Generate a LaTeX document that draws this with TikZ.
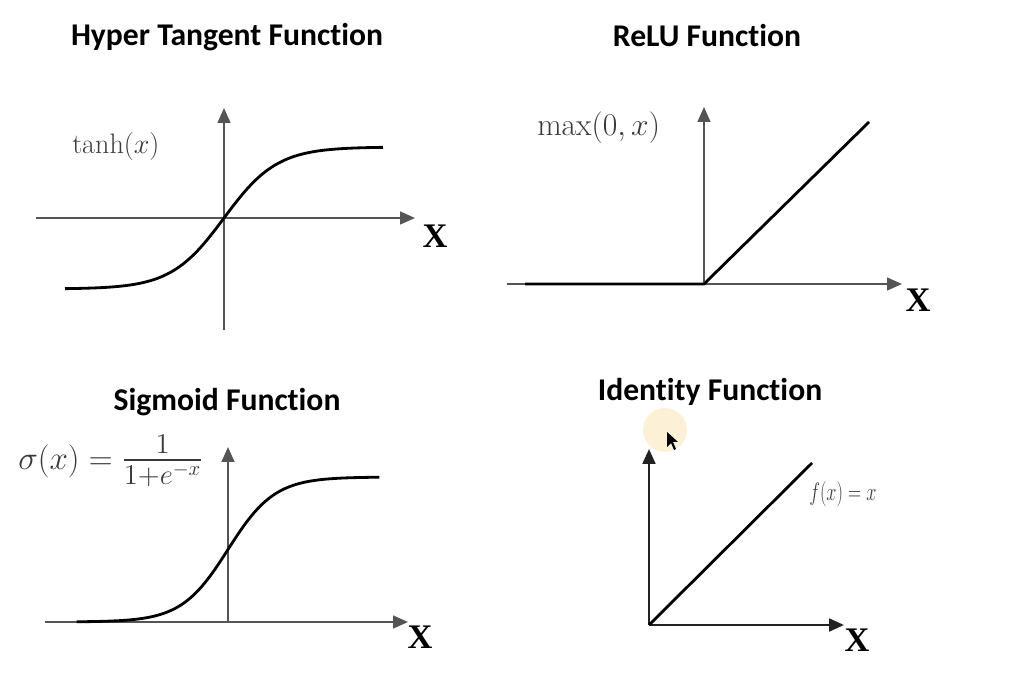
\documentclass[tikz,border=0pt]{standalone}
\usepackage{fix-cm}
\usepackage{amsmath}
\usepackage{fontspec}
\usetikzlibrary{arrows.meta}
\newfontfamily\titlefont{Carlito}[Ligatures=NoCommon]
\newfontfamily\timesfont{Liberation Serif}
\definecolor{axisgray}{HTML}{555555}
\definecolor{axisdark}{HTML}{222222}
\definecolor{labelgray}{HTML}{3A3A3A}
\definecolor{cursorglow}{HTML}{FCF1D6}

\begin{document}
\begin{tikzpicture}[x=0.025cm,y=-0.025cm,
    axis/.style={draw=axisgray,line width=1.4pt,-{Triangle[length=10.5pt,width=9pt]}},
    curve/.style={draw=black,line width=2pt,line join=round},
    title/.style={font=\titlefont\bfseries\fontsize{22.5}{26}\selectfont,anchor=base,inner sep=0pt},
    xname/.style={font=\timesfont\bfseries\fontsize{24.5}{28}\selectfont,anchor=base,inner sep=0pt},
    fname/.style={text=labelgray,anchor=base west,inner sep=0pt},
  ]
  \useasboundingbox (0,0) rectangle (1014,674);

  % titles
  \node[title] (tanh-title) at (227,46) {Hyper Tangent Function};
  \node[title] (relu-title) at (707,47) {ReLU Function};
  \node[title] (sig-title) at (227,411) {Sigmoid Function};
  \node[title] (id-title) at (710,401) {Identity Function};

  % axes: origin, left end of x axis, x tip, bottom of y axis, y tip
  \foreach \n/\ox/\oy/\l/\r/\b/\t in {tanh/224/218/36/415/330/108,
                                     relu/704/284/507/902/284/107,
                                     sig/228/622/45/408/622/447}{
    \coordinate (\n-o) at (\ox,\oy);
    \coordinate (\n-l) at (\l,\oy);
    \coordinate (\n-r) at (\r,\oy);
    \coordinate (\n-b) at (\ox,\b);
    \coordinate (\n-t) at (\ox,\t);
    \path[axis] (\n-l) -- (\n-r);
    \path[axis] (\n-b) -- (\n-t);
  }
  \coordinate (id-o) at (649,625);
  \coordinate (id-r) at (844,625);
  \coordinate (id-t) at (649,449);
  \path[axis,draw=axisdark,line width=1.8pt] (id-o) -- (id-r);
  \path[axis,draw=axisdark,line width=1.8pt] (id-o) -- (id-t);

  % curves
  \draw[curve] plot[domain=-3:3,samples=90] ({224+53*\x},{218-71*tanh(\x)});
  \draw[curve] plot[domain=-6.5:6.5,samples=110] ({228+23.3*\x},{622-145/(1+exp(-\x))});
  \coordinate (relu-s) at (525,284);
  \coordinate (relu-e) at (869,122);
  \draw[curve] (relu-s) -- (relu-o) -- (relu-e);
  \coordinate (id-e) at (812,463);
  \draw[curve] (id-o) -- (id-e);

  % function labels
  \node[fname,font=\fontsize{20}{24}\selectfont] (tanh-f) at (72,154) {$\tanh(x)$};
  \node[fname,font=\fontsize{22.5}{26}\selectfont] (relu-f) at (537,136) {$\max(0,x)$};
  \node[fname,font=\fontsize{23.5}{27}\selectfont] (sig-f) at (18,470)
    {$\sigma(x)=\;$\scalebox{1.24}{$\frac{1}{1+e^{-x}}$}};
  \node[fname,font=\fontsize{18}{22}\selectfont] (id-f) at (809,501)
    {\scalebox{0.72}[1]{$f(x)=x$}};

  % x names
  \node[xname] (tanh-x) at (435,248) {X};
  \node[xname] (relu-x) at (918,312) {X};
  \node[xname] (sig-x) at (420,649) {X};
  \node[xname] (id-x) at (857,652) {X};

  % pointer
  \fill[cursorglow] (665,430) circle (22);
  \fill[black] (667,432) -- (667,447) -- (671,443) -- (674,450) -- (676,449) -- (673,442) -- (678,442) -- cycle;
\end{tikzpicture}
\end{document}
